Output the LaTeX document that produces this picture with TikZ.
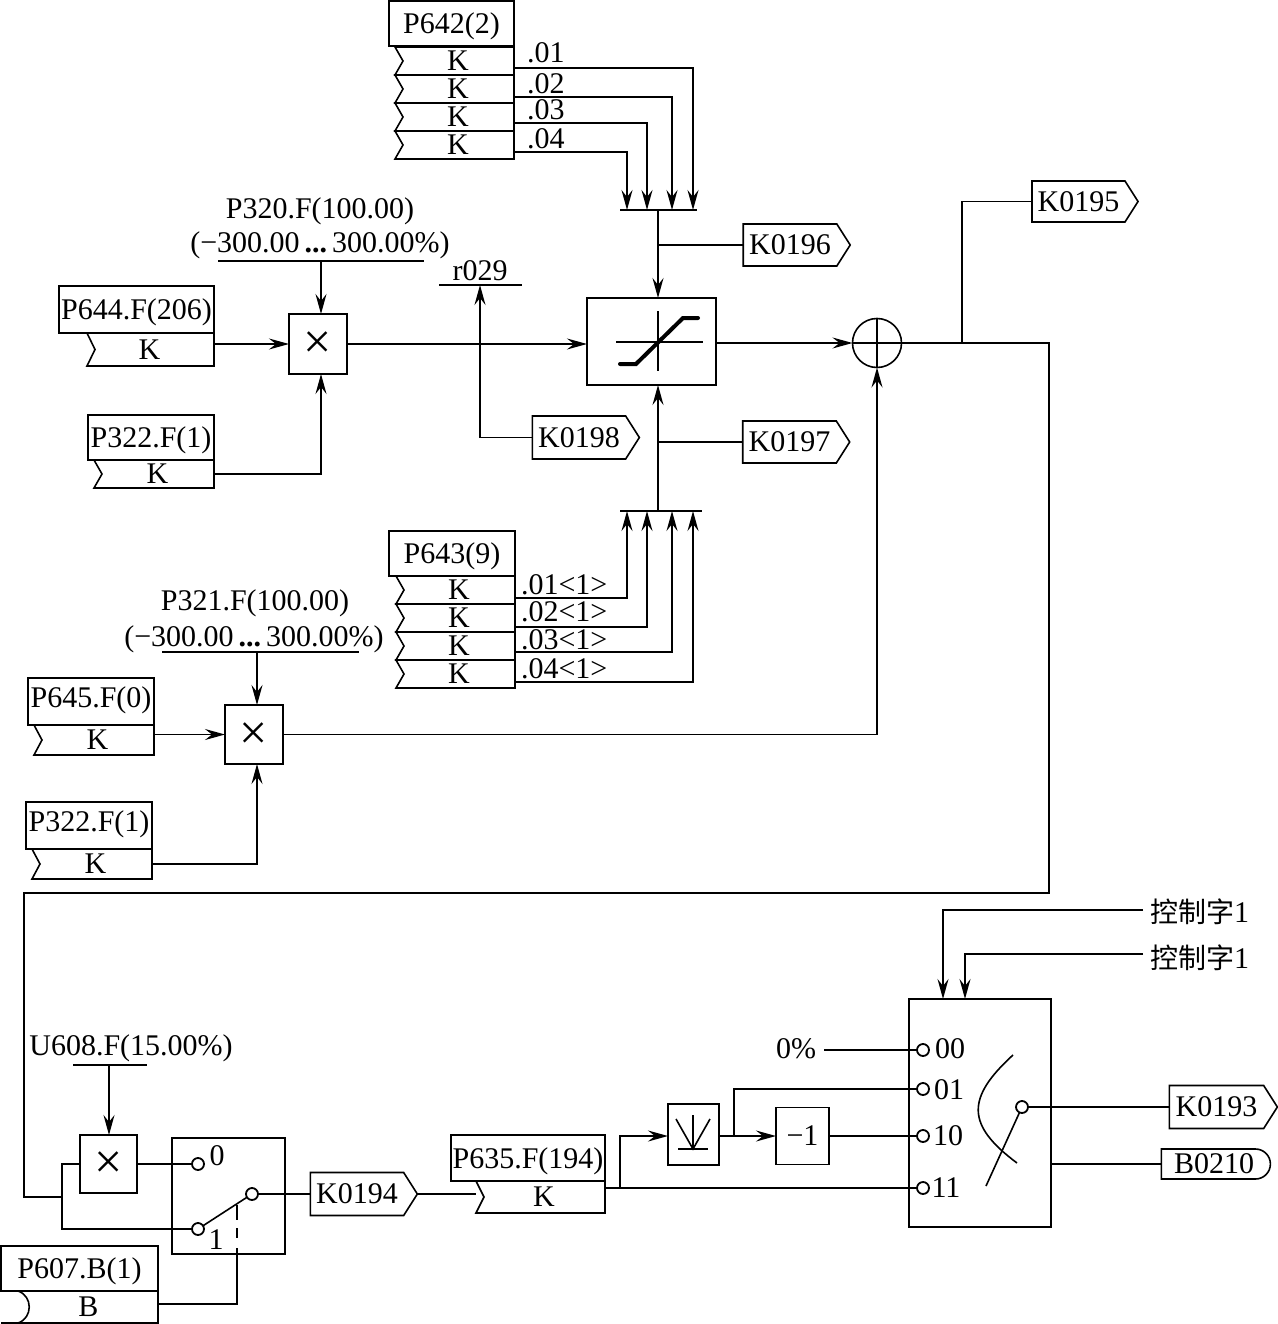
\documentclass[tikz,border=0pt]{standalone}
\usepackage{fontspec}
\setmainfont{Liberation Serif}
\newfontfamily\cjkfont{Noto Sans CJK SC}
\usetikzlibrary{arrows.meta,calc,shapes.symbols,shapes.misc}

\tikzset{
	wire/.style={line width=1.6pt},
	sig/.style={wire,-{Stealth[length=20pt,width=11pt,inset=7pt]}},
	txt/.style={inner sep=0,outer sep=0,text depth=0pt,font=\fontsize{30}{30}\selectfont},
	boxed/.style 2 args={txt,draw,line width=1.6pt,minimum width=#1pt,minimum height=#2pt},
	rowbox/.style 2 args={txt,minimum width=#1pt,minimum height=#2pt,execute at begin node=\hspace*{7pt}},
	tag/.style 2 args={txt,draw,line width=1.6pt,shape=signal,signal to=east,signal pointer angle=115,minimum width=#1pt,minimum height=#2pt},
	port/.style={circle,draw,line width=1.8pt,fill=white,inner sep=0,outer sep=0,minimum size=12pt},
	timesfont/.style={font=\fontsize{50}{50}\selectfont},
}
\newcommand{\zigrows}[1]{%
	\foreach \n in {#1}
		\draw[wire] (\n.north west) -- ($(\n.west)+(8,0)$) -- (\n.south west) -- (\n.south east) -- (\n.north east) -- cycle;
}
\newcommand{\timessign}{\raisebox{-3pt}{×}}

\begin{document}
\begin{tikzpicture}[x=1pt,y=-1pt]

	\useasboundingbox (0,0) rectangle (1277,1324);

	% upper limit selector
	\node[boxed={125}{45}] (p642) at (451.5,23.5) {P642(2)};
	\node[rowbox={119}{28}] (p642a) at (454.5,61) {K};
	\node[rowbox={119}{28}] (p642b) at (454.5,89) {K};
	\node[rowbox={119}{28}] (p642c) at (454.5,117) {K};
	\node[rowbox={119}{28}] (p642d) at (454.5,145) {K};
	\zigrows{p642a,p642b,p642c,p642d}
	\node[txt,anchor=west] (t01) at (527,53) {.01};
	\node[txt,anchor=west] (t02) at (527,84) {.02};
	\node[txt,anchor=west] (t03) at (527,110) {.03};
	\node[txt,anchor=west] (t04) at (527,139) {.04};
	\coordinate (hi01) at (693,210);
	\coordinate (hi02) at (672,210);
	\coordinate (hi03) at (647,210);
	\coordinate (hi04) at (627,210);
	\coordinate (hibar) at (658,210);
	\draw[wire] (620,210) -- (697,210);
	\draw[sig] (514,68) -| (hi01);
	\draw[sig] (514,97) -| (hi02);
	\draw[sig] (514,123) -| (hi03);
	\draw[sig] (514,152) -| (hi04);

	% limiter block
	\node[boxed={129}{87}] (limit) at (651.5,341.5) {};
	\draw[wire] (616,342) -- (703,342);
	\draw[wire] (658,311) -- (658,371);
	\draw[line width=4pt,line cap=round] (620,364) -- (636,364) -- (683,318) -- (698,318);
	\node[tag={107}{42}] (k0196) at (790,245) {K0196};
	\node[tag={107}{42}] (k0197) at (789.5,442) {K0197};
	\node[tag={107}{43}] (k0198) at (579,437.5) {K0198};
	\coordinate (limtop) at (658,298);
	\coordinate (limbot) at (658,385);
	\draw[sig] (hibar) -- (limtop);
	\draw[wire] (658,245) -- (k0196.west);
	\draw[wire] (658,442) -- (k0197.west);

	% lower limit selector
	\node[boxed={126}{45}] (p643) at (452,553.5) {P643(9)};
	\node[rowbox={119}{28}] (p643a) at (455.5,590) {K};
	\node[rowbox={119}{28}] (p643b) at (455.5,618) {K};
	\node[rowbox={119}{28}] (p643c) at (455.5,646) {K};
	\node[rowbox={119}{28}] (p643d) at (455.5,674) {K};
	\zigrows{p643a,p643b,p643c,p643d}
	\node[txt,anchor=west] (u01) at (521,585) {.01<1>};
	\node[txt,anchor=west] (u02) at (521,612) {.02<1>};
	\node[txt,anchor=west] (u03) at (521,640) {.03<1>};
	\node[txt,anchor=west] (u04) at (521,669) {.04<1>};
	\coordinate (lo01) at (627,511);
	\coordinate (lo02) at (647,511);
	\coordinate (lo03) at (672,511);
	\coordinate (lo04) at (693,511);
	\coordinate (lobar) at (658,511);
	\draw[wire] (620,511) -- (702,511);
	\draw[sig] (515,598) -| (lo01);
	\draw[sig] (515,627) -| (lo02);
	\draw[sig] (515,652) -| (lo03);
	\draw[sig] (515,682) -| (lo04);
	\draw[sig] (lobar) -- (limbot);

	% first multiplier
	\node[boxed={58}{60},timesfont] (m1) at (318,344) {\timessign};
	\node[txt] (p320) at (320,208) {P320.F(100.00)};
	\node[txt] (r320) at (320,242) {(−300.00\,\textbf{...}\,300.00\%)};
	\coordinate (m1bar) at (321,261);
	\draw[wire] (218,261) -- (424,261);
	\draw[sig] (m1bar) -- (m1bar |- m1.north);
	\node[boxed={155}{47}] (p644) at (136.5,309.5) {P644.F(206)};
	\node[rowbox={127}{33}] (p644k) at (150.5,349.5) {\hspace*{-9pt}K};
	\node[boxed={126}{45}] (p322a) at (151,437.5) {P322.F(1)};
	\node[rowbox={120}{28}] (p322ak) at (154,474) {K};
	\zigrows{p644k,p322ak}
	\draw[sig] (p644k.east |- m1.west) -- (m1.west);
	\draw[sig] (p322ak.east) -| (m1bar |- m1.south);
	\draw[sig] (m1.east) -- (limit.west |- m1.east);

	% actual value tap
	\node[txt] (r029) at (480,271) {r029};
	\coordinate (r029bar) at (480,285);
	\draw[wire] (439,285) -- (522,285);
	\draw[sig] (k0198.west) -| (r029bar);

	% second multiplier
	\node[boxed={58}{59},timesfont] (m2) at (254,734.5) {\timessign};
	\node[txt] (p321) at (255,600) {P321.F(100.00)};
	\node[txt] (r321) at (254,636) {(−300.00\,\textbf{...}\,300.00\%)};
	\coordinate (m2bar) at (257,652);
	\draw[wire] (162,652) -- (359,652);
	\draw[sig] (m2bar) -- (m2bar |- m2.north);
	\node[boxed={126}{47},text depth=8pt] (p645) at (91,701.5) {P645.F(0)};
	\node[rowbox={120}{30}] (p645k) at (94,740) {K};
	\node[boxed={126}{47},text depth=9pt] (p322b) at (89,825.5) {P322.F(1)};
	\node[rowbox={120}{30}] (p322bk) at (92,864) {K};
	\zigrows{p645k,p322bk}
	\draw[sig] (p645k.east |- m2.west) -- (m2.west);
	\draw[sig] (p322bk.east) -| (m2bar |- m2.south);

	% summing point and outputs
	\node[circle,draw,line width=1.6pt,inner sep=0,outer sep=0,minimum size=49pt] (sum) at (877,343) {};
	\draw[wire] (sum.north) -- (sum.south);
	\draw[wire] (sum.west) -- (sum.east);
	\draw[sig] (limit.east |- sum.west) -- (sum.west);
	\draw[sig] (m2.east) -| (sum.south);
	\node[tag={106}{41}] (k0195) at (1078.5,201.5) {K0195};
	\coordinate (tap) at (962,343);
	\draw[wire] (tap) |- (k0195.west);
	\coordinate (join) at (62,1197);
	\draw[wire] (sum.east) -- (1049,343) -- (1049,893) -- (24,893) -- (24,1197) -- (join);

	% third multiplier and switch
	\node[txt] (u608) at (131,1045) {U608.F(15.00\%)};
	\coordinate (m3bar) at (109,1065);
	\draw[wire] (73,1065) -- (147,1065);
	\node[boxed={57}{58},timesfont] (m3) at (108.5,1164) {\timessign};
	\draw[sig] (m3bar) -- (m3bar |- m3.north);
	\node[boxed={113}{116}] (sw) at (228.5,1196) {};
	\node[port] (sw0) at (198,1164) {};
	\node[port] (sw1) at (198,1229) {};
	\node[port] (swo) at (252,1194) {};
	\node[txt] (l0) at (217,1156) {0};
	\node[txt] (l1) at (216,1240) {1};
	\draw[wire] (m3.east) -- (sw0.west);
	\draw[wire] (m3.west) -- (62,1164) -- (62,1229) -- (sw1.west);
	\draw[wire] (sw1) -- (swo);
	\node[tag={107}{43}] (k0194) at (357,1194) {K0194};
	\draw[wire] (swo.east) -- (k0194.west);

	\node[boxed={157}{45}] (p607) at (79.5,1268.5) {P607.B(1)};
	\node[txt,draw=none,minimum width=157pt,minimum height=32pt] (p607b) at (79.5,1307) {\hspace*{18pt}B};
	\draw[wire] (p607b.north west) -- (p607b.north east) -- (p607b.south east) -- (p607b.south west);
	\draw[wire] (18,1291) .. controls (33,1296) and (33,1318) .. (18,1323);
	\coordinate (ctl) at (237,1304);
	\draw[wire] (p607b.east |- ctl) -- (ctl) -- (237,1248);
	\draw[wire,dash pattern=on 15pt off 8pt on 10pt off 10pt] (237,1205) -- (237,1248);

	% output parameter
	\node[boxed={154}{46}] (p635) at (528,1158) {P635.F(194)};
	\node[rowbox={129}{32}] (p635k) at (540.5,1197) {K};
	\zigrows{p635k}
	\draw[wire] (k0194.east) -- (476,1194);

	% selector block
	\node[boxed={142}{228}] (sel) at (980,1113) {};
	\node[port] (s00) at (923,1050) {};
	\node[port] (s01) at (923,1089) {};
	\node[port] (s10) at (923,1136) {};
	\node[port] (s11) at (923,1188) {};
	\node[port] (so) at (1022,1107) {};
	\node[txt] (l00) at (950,1049) {00};
	\node[txt] (l01) at (949,1090) {01};
	\node[txt] (l10) at (948,1136) {10};
	\node[txt] (l11) at (946,1188) {11};
	\draw[wire] (1013,1055) .. controls (966,1098) and (966,1125) .. (1017,1163);
	\draw[wire] (so) -- (986,1186);

	\node[txt] (zero) at (796,1049) {0\%};
	\draw[wire] (824,1050) -- (s00.west);
	\node[boxed={51}{61}] (abs) at (693.5,1134.5) {};
	\draw[wire] (676,1119) -- (693,1149) -- (710,1119);
	\draw[wire] (693,1115) -- (693,1149);
	\draw[wire] (678,1149) -- (708,1149);
	\node[boxed={53}{57}] (neg) at (802.5,1136) {−1};
	\coordinate (fork) at (620,1188);
	\draw[wire] (p635k.east |- fork) -- (fork) -- (s11.west);
	\draw[sig] (fork) |- (abs.west |- neg.west);
	\draw[sig] (abs.east |- neg.west) -- (neg.west);
	\draw[wire] (734,1136) |- (s01.west);
	\draw[wire] (neg.east) -- (s10.west);

	\node[tag={108}{43}] (k0193) at (1216.5,1107) {K0193};
	\draw[wire] (so.east) -- (k0193.west);
	\node[txt,draw,line width=1.6pt,rounded rectangle,rounded rectangle west arc=none,minimum width=109pt,minimum height=30pt] (b0210) at (1214,1164) {B0210};
	\draw[wire] (sel.east |- b0210.west) -- (b0210.west);

	% control word inputs
	\node[txt,anchor=west] (cw1) at (1150,911) {{\cjkfont\fontsize{28}{28}\selectfont 控制字}1};
	\node[txt,anchor=west] (cw2) at (1150,957) {{\cjkfont\fontsize{28}{28}\selectfont 控制字}1};
	\coordinate (sel1) at (943,999);
	\coordinate (sel2) at (965,999);
	\draw[sig] (cw1.west |- 0,910) ++(-7,0) -| (sel1);
	\draw[sig] (cw2.west |- 0,954) ++(-7,0) -| (sel2);

\end{tikzpicture}
\end{document}
